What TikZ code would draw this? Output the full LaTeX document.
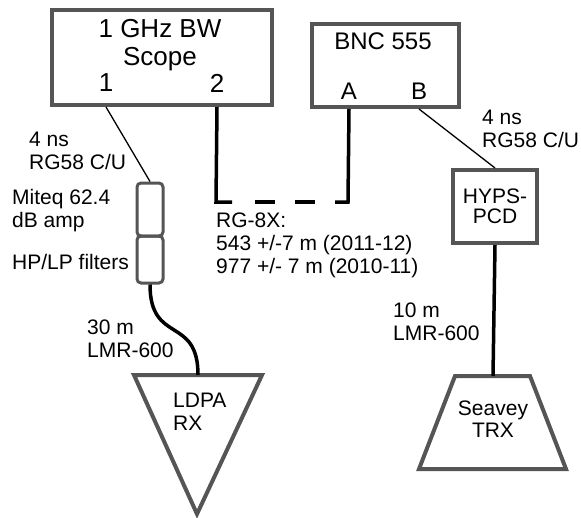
\documentclass[tikz,border=0pt]{standalone}
\usepackage{fontspec}
\setmainfont{Liberation Sans}
\usepackage[dvipsnames,svgnames]{xcolor}
\usepackage{tikz}
\usetikzlibrary{arrows,positioning,calc}
\definecolor{boxgray}{HTML}{555555}

\begin{document}
\begin{tikzpicture}[x=1pt,y=-1pt,
	unit/.style={draw=boxgray,line width=4pt,inner sep=0pt,minimum width=#1},
	inline/.style={draw=boxgray,line width=3pt,rounded corners=4pt,minimum width=26pt,inner sep=0pt},
	lbl/.style={inner sep=0pt,align=left,anchor=west,font=\fontsize{21}{23}\selectfont},
	port/.style={inner sep=0pt,font=\fontsize{24}{26}\selectfont},
	thincable/.style={line width=1.3pt},
	thickcable/.style={line width=3.5pt}]
	\useasboundingbox (0,0) rectangle (581,517);
	% instruments
	\node [unit=220pt,minimum height=95pt] (scope) at (162,57.5) {};
	\node [inner sep=0pt,align=center,font=\fontsize{26}{28}\selectfont] (scopetxt) at (160,45) {1 GHz BW\\Scope};
	\node [port,font=\fontsize{26}{28}\selectfont] (p1) at (106,83) {1};
	\node [port,font=\fontsize{26}{28}\selectfont] (p2) at (217,83) {2};
	\node [unit=147pt,minimum height=83pt] (bnc) at (385.5,65.5) {};
	\node [port] (bnctxt) at (383,41) {BNC 555};
	\node [port] (pA) at (349,91) {A};
	\node [port] (pB) at (419,91) {B};
	\node [unit=84pt,minimum height=73pt,align=center,font=\fontsize{21}{20}\selectfont] (hyps) at (495,206.5) {HYPS-\\PCD};
	\node [inline,minimum height=53pt] (amp) at (150,209.5) {};
	\node [inline,minimum height=47pt] (filt) at (150,259.5) {};
	% antennas
	\draw [boxgray,line width=4pt,line join=miter] (134,375) -- (262,375) -- (197,514) -- cycle;
	\coordinate (ldpatop) at (198,375);
	\node [lbl] (ldpa) at (173,412) {LDPA\\RX};
	\draw [boxgray,line width=4pt,line join=miter] (455,376) -- (530,376) -- (566,469) -- (419,469) -- cycle;
	\coordinate (seaveytop) at (493,376);
	\node [inner sep=0pt,align=center,font=\fontsize{21}{22}\selectfont] (seavey) at (493,419.5) {Seavey\\TRX};
	% cables
	\draw [thincable] (p1 |- scope.south) -- (amp.north);
	\draw [thincable] (pB |- bnc.south) -- (hyps.north);
	\draw [thickcable] (hyps.south) -- (seaveytop);
	\draw [thickcable] (filt.south) .. controls (150,345) and (198,315) .. (ldpatop);
	\coordinate (c1) at (216,202);
	\coordinate (c2) at (348,202);
	\draw [thickcable,line join=miter] (p2 |- scope.south) -- (c1) -- ++(16,0);
	\draw [thickcable,line join=miter] (pA |- bnc.south) -- (c2) -- ++(-13,0);
	\draw [thickcable,dash pattern=on 20pt off 20pt] ($(c1)+(39,0)$) -- ($(c1)+(99,0)$);
	% cable labels
	\node [lbl] (rg58a) at (29,151) {4 ns\\RG58 C/U};
	\node [lbl] (miteq) at (12,211) {Miteq 62.4\\dB amp};
	\node [lbl] (hplp) at (12,262) {HP/LP filters};
	\node [lbl] (lmra) at (87,339) {30 m\\LMR-600};
	\node [lbl] (rg8x) at (216,245) {RG-8X:\\543 +/-7 m (2011-12)\\977 +/- 7 m (2010-11)};
	\node [lbl] (rg58b) at (482,129) {4 ns\\RG58 C/U};
	\node [lbl] (lmrb) at (393,321.5) {10 m\\LMR-600};
\end{tikzpicture}
\end{document}
